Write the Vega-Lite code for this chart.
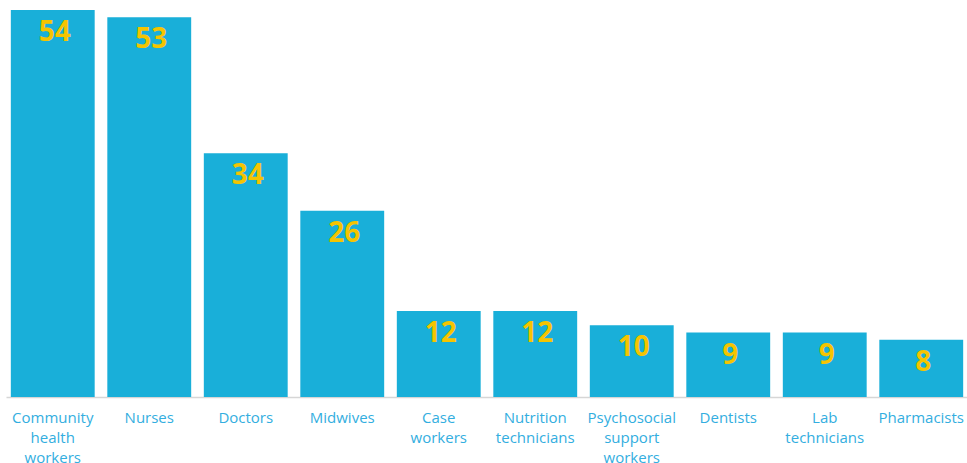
{
  "$schema": "https://vega.github.io/schema/vega-lite/v6.json",
  "width": 962,
  "height": 397,
  "autosize": {"type": "none"},
  "padding": {"left": 6, "top": 0, "right": 0, "bottom": 66},
  "background": "white",
  "config": {"view": {"stroke": null}},
  "data": {
    "values": [
      {"role": "Community|health|workers", "count": 54},
      {"role": "Nurses", "count": 53},
      {"role": "Doctors", "count": 34},
      {"role": "Midwives", "count": 26},
      {"role": "Case|workers", "count": 12},
      {"role": "Nutrition|technicians", "count": 12},
      {"role": "Psychosocial|support|workers", "count": 10},
      {"role": "Dentists", "count": 9},
      {"role": "Lab|technicians", "count": 9},
      {"role": "Pharmacists", "count": 8}
    ]
  },
  "encoding": {
    "x": {
      "field": "role",
      "type": "nominal",
      "sort": null,
      "scale": {"paddingInner": 0.131, "paddingOuter": 0.05},
      "axis": {
        "title": null,
        "labelAngle": 0,
        "labelExpr": "split(datum.label, '|')",
        "labelFont": "Open Sans",
        "labelFontSize": 15,
        "labelColor": "#33AEE0",
        "labelLineHeight": 20,
        "labelPadding": 13,
        "ticks": false,
        "domainColor": "#d6d6d6",
        "domainWidth": 1.5,
        "labelLimit": 200
      }
    },
    "y": {
      "field": "count",
      "type": "quantitative",
      "scale": {"domain": [0, 55.4], "nice": false},
      "axis": null
    }
  },
  "layer": [
    {"mark": {"type": "bar", "color": "#19AFD9"}},
    {
      "mark": {
        "type": "text",
        "baseline": "top",
        "dy": 9,
        "dx": 2,
        "font": "Open Sans",
        "fontWeight": "bold",
        "fontSize": 28,
        "color": "#F5C400"
      },
      "encoding": {"text": {"field": "count", "type": "quantitative"}}
    }
  ]
}
